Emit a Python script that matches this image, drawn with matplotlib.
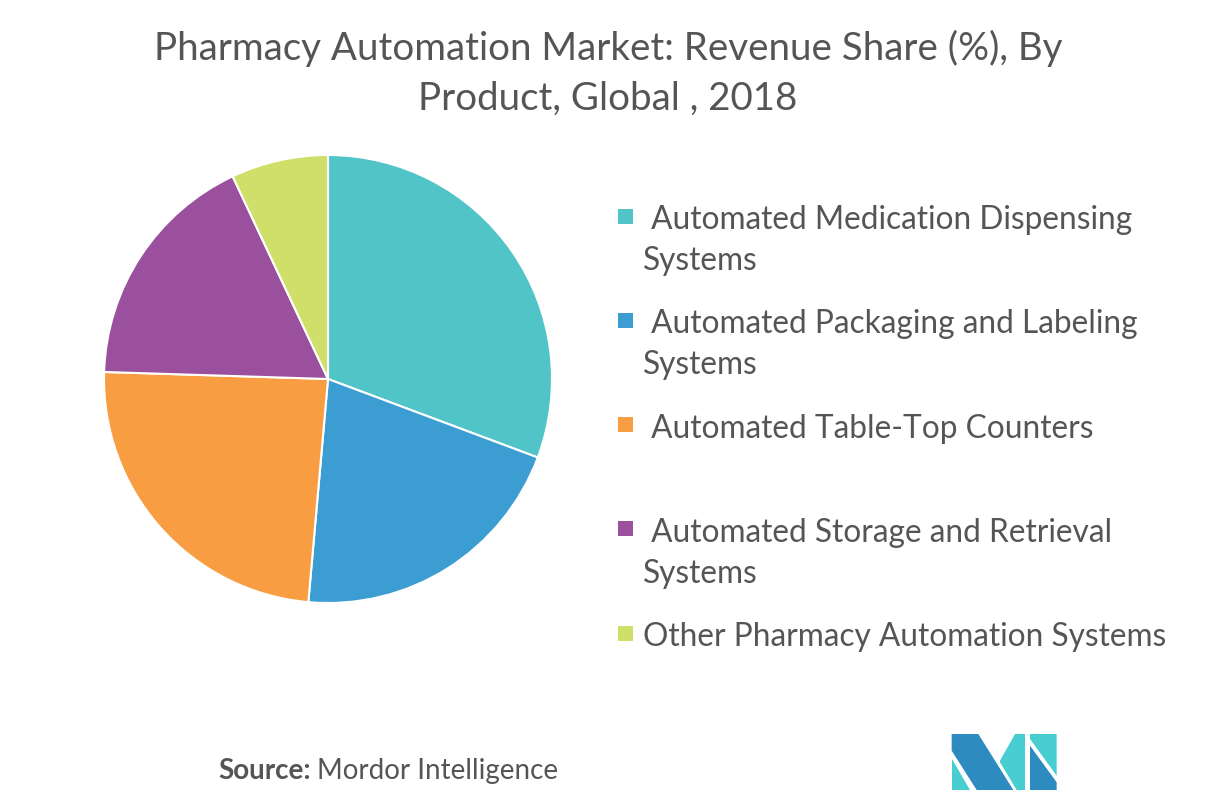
import matplotlib
matplotlib.use("Agg")
import matplotlib.pyplot as plt
from matplotlib.patches import Polygon, Rectangle

plt.rcParams['font.family'] = ['Lato', 'DejaVu Sans']

categories = [
    " Automated Medication Dispensing\nSystems",
    " Automated Packaging and Labeling\nSystems",
    " Automated Table-Top Counters",
    " Automated Storage and Retrieval\nSystems",
    "Other Pharmacy Automation Systems",
]
shares = [30.7, 20.7, 24.1, 17.5, 7.0]
colors = ["#50C4C7", "#3B9DD1", "#F99D43", "#9B509E", "#CFDF69"]

title_lines = ["Pharmacy Automation Market: Revenue Share (%), By",
               "Product, Global , 2018"]
TEXT = "#555555"

W, H = 1216, 804
fig = plt.figure(figsize=(W / 100, H / 100), dpi=100)
fig.patch.set_facecolor("white")

# pie axes
cx, cy, r = 328, 380, 224
ax = fig.add_axes([(cx - r) / W, (H - cy - r) / H, 2 * r / W, 2 * r / H])
ax.pie(shares, colors=colors, startangle=90, counterclock=False, radius=1,
       wedgeprops=dict(edgecolor="white", linewidth=1.5))
ax.set_xlim(-1.0, 1.0)
ax.set_ylim(-1.0, 1.0)
ax.set_aspect("equal")
ax.axis("off")

# title
for k, line in enumerate(title_lines):
    fig.text(608 / W, 1 - (45 + 50 * k) / H, line, ha="center",
             va="center_baseline", fontsize=27.7, color=TEXT)

# legend (manual)
y0, dy = 217, 104.3
for i, (lab, col) in enumerate(zip(categories, colors)):
    y = y0 + dy * i
    fig.patches.append(Rectangle((618 / W, 1 - (y + 7.5) / H), 15 / W, 15 / H,
                                 transform=fig.transFigure, facecolor=col,
                                 edgecolor="none"))
    for k, line in enumerate(lab.split("\n")):
        fig.text(643 / W, 1 - (y + 41 * k) / H, line, ha="left",
                 va="center_baseline", fontsize=22.8, color=TEXT)

# source
fig.canvas.draw()
t1 = fig.text(218 / W, 1 - 769 / H, "Source:", ha="left", va="center_baseline",
              fontsize=20, color=TEXT, fontweight="bold")
bb = t1.get_window_extent(renderer=fig.canvas.get_renderer())
fig.text((bb.x1 + 6) / W, 1 - 769 / H, "Mordor Intelligence", ha="left",
         va="center_baseline", fontsize=20, color=TEXT)

# logo
lax = fig.add_axes([0, 0, 1, 1], facecolor="none")
lax.set_xlim(0, W)
lax.set_ylim(H, 0)
lax.axis("off")

def P(pts):
    return [(900 + x / 3, 720 + y / 3) for x, y in pts]

dark = "#2E8BC0"
teal = "#48CDD0"
shapes = [
    (P([(155, 120), (155, 213), (210, 213)]), teal),
    (P([(155, 45), (235, 45), (340, 213), (230, 213), (155, 95)]), dark),
    (P([(300, 125), (345, 45), (375, 45), (375, 213), (350, 213), (300, 130)]), teal),
    (P([(390, 45), (470, 45), (470, 170), (390, 60)]), teal),
    (P([(390, 80), (470, 190), (470, 213), (390, 213)]), dark),
]
for pts, c in shapes:
    lax.add_patch(Polygon(pts, closed=True, facecolor=c, edgecolor="none"))

fig.savefig("out.png", dpi=100, facecolor="white")
